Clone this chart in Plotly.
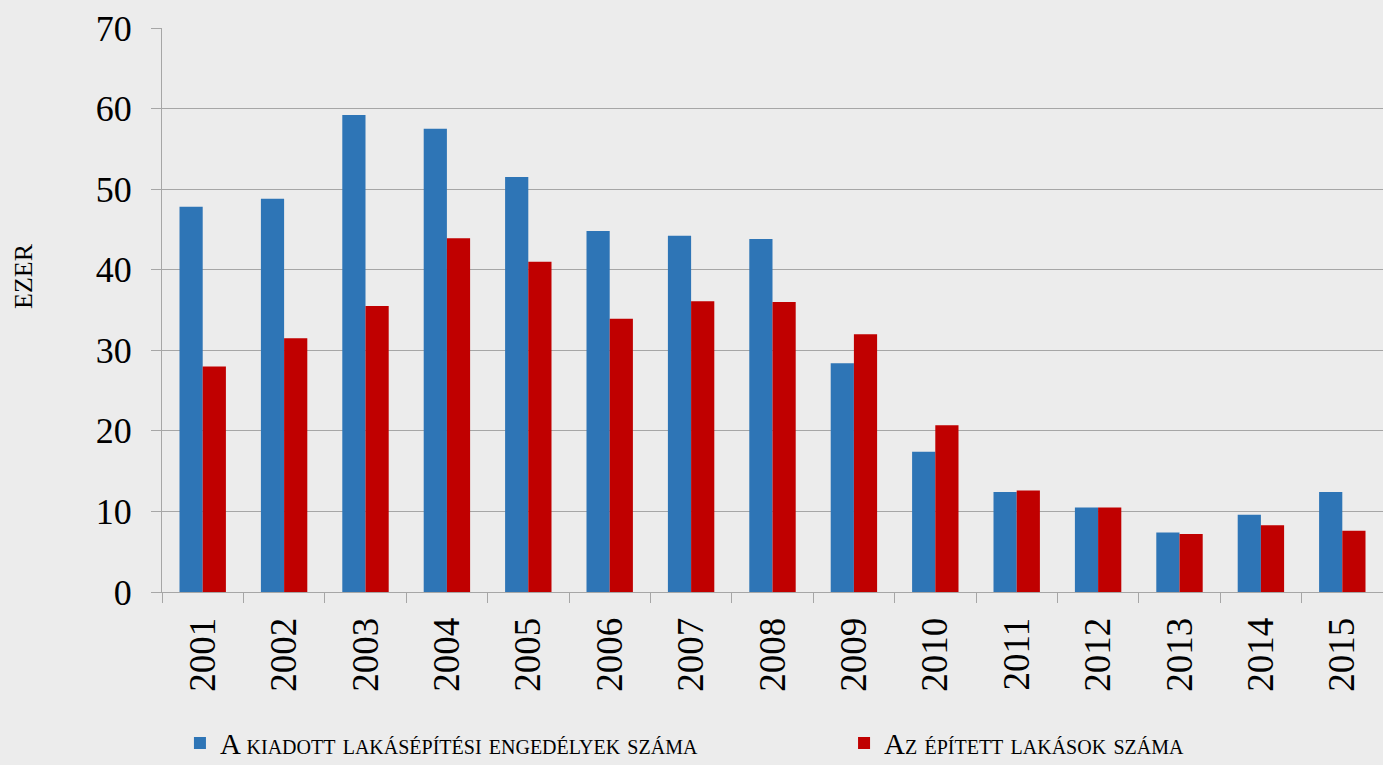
import plotly.graph_objects as go

years = ["2001", "2002", "2003", "2004", "2005", "2006", "2007", "2008",
         "2009", "2010", "2011", "2012", "2013", "2014", "2015"]
engedelyek = [47.8, 48.8, 59.2, 57.5, 51.5, 44.8, 44.2, 43.8, 28.4, 17.4,
              12.4, 10.5, 7.4, 9.6, 12.4]
epitett = [28.0, 31.5, 35.5, 43.9, 41.0, 33.9, 36.1, 36.0, 32.0, 20.7,
           12.6, 10.5, 7.2, 8.3, 7.6]
y_ticks = [0, 10, 20, 30, 40, 50, 60, 70]

name1 = "A kiadott lakásépítési engedélyek száma"
name2 = "Az épített lakások száma"
y_title = "EZER"

FONT = "Liberation Serif"
BG = "#ececec"
GRID = "#a6a6a6"

fig = go.Figure()
fig.add_trace(go.Bar(x=years, y=engedelyek, name=name1, marker_color="#2e75b6",
                     marker_line_width=0, legend="legend"))
fig.add_trace(go.Bar(x=years, y=epitett, name=name2, marker_color="#c00000",
                     marker_line_width=0, legend="legend2"))

legend_font = dict(family=FONT, size=29, variant="small-caps", color="#000000")

fig.update_layout(
    width=1383, height=765,
    paper_bgcolor=BG, plot_bgcolor=BG,
    margin=dict(l=162, r=0, t=28, b=173, autoexpand=False),
    barmode="group", bargap=0.43, bargroupgap=0,
    font=dict(family=FONT, color="#000000"),
    showlegend=True,
    legend=dict(orientation="h", x=0.0147, xanchor="left", y=-0.268, yanchor="middle",
                font=legend_font, bgcolor="rgba(0,0,0,0)"),
    legend2=dict(orientation="h", x=0.5586, xanchor="left", y=-0.268, yanchor="middle",
                 font=legend_font, bgcolor="rgba(0,0,0,0)"),
    xaxis=dict(type="category", showgrid=False, showline=True, linecolor=GRID,
               linewidth=1, ticks="outside", ticklen=10, tickcolor=GRID,
               tickson="boundaries", tickangle=-90, ticklabelstandoff=10,
               automargin=False,
               tickfont=dict(family=FONT, size=37)),
    yaxis=dict(range=[0, 70], tickvals=y_ticks, showgrid=True, gridcolor=GRID,
               gridwidth=1, showline=True, linecolor=GRID, linewidth=1,
               ticks="outside", ticklen=10, tickcolor=GRID, zeroline=False,
               ticklabelstandoff=12, automargin=False,
               tickfont=dict(family=FONT, size=36)),
    annotations=[dict(text=y_title, xref="paper", yref="paper", x=-0.1140, y=0.56,
                      xanchor="center", yanchor="middle", textangle=-90,
                      showarrow=False, font=dict(family=FONT, size=26))],
)

fig.write_html("out.html", config={"displayModeBar": False},
               post_script="document.body.style.margin='0';document.body.style.background='#ececec';")
